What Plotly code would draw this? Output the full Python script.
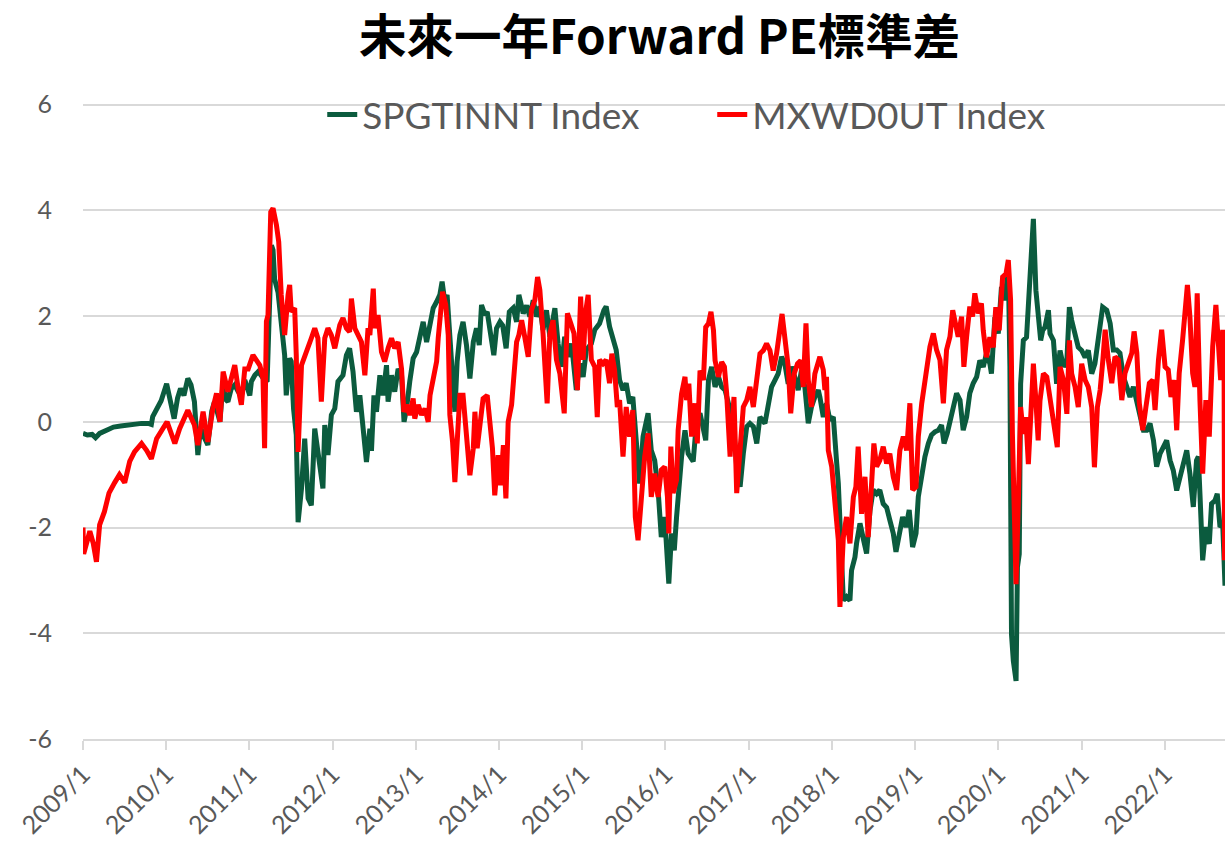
import plotly.graph_objects as go

# ---- data ----
spg_points = [
    ("2009-01-01", -0.22), ("2009-01-20", -0.25), ("2009-02-10", -0.24), ("2009-02-25", -0.30),
    ("2009-03-15", -0.22), ("2009-04-15", -0.15), ("2009-05-15", -0.10), ("2009-06-15", -0.08),
    ("2009-07-15", -0.06), ("2009-08-15", -0.04), ("2009-09-15", -0.03), ("2009-10-15", -0.03),
    ("2009-10-28", -0.05), ("2009-11-03", 0.10), ("2009-11-20", 0.25), ("2009-12-10", 0.40),
    ("2010-01-03", 0.72), ("2010-01-20", 0.35), ("2010-02-05", 0.06), ("2010-02-20", 0.45),
    ("2010-03-05", 0.63), ("2010-03-20", 0.50), ("2010-04-06", 0.82), ("2010-04-20", 0.70),
    ("2010-05-05", 0.38), ("2010-05-20", -0.63), ("2010-06-01", -0.10), ("2010-06-12", -0.25),
    ("2010-07-03", -0.44), ("2010-07-20", 0.20), ("2010-08-01", 0.38), ("2010-08-25", 0.00),
    ("2010-09-08", 0.76), ("2010-09-22", 0.41), ("2010-09-29", 0.38), ("2010-10-14", 0.63),
    ("2010-10-29", 0.70), ("2010-11-13", 0.57), ("2010-11-27", 0.50), ("2010-12-12", 0.79),
    ("2011-01-03", 0.50), ("2011-01-10", 0.76), ("2011-01-25", 0.88), ("2011-02-09", 0.95),
    ("2011-02-23", 0.85), ("2011-03-09", 0.79), ("2011-03-20", 0.76), ("2011-03-27", 1.70),
    ("2011-04-08", 3.34), ("2011-04-15", 3.25), ("2011-04-22", 2.70), ("2011-05-07", 2.45),
    ("2011-05-21", 1.90), ("2011-06-05", 1.26), ("2011-06-12", 0.50), ("2011-06-27", 1.20),
    ("2011-07-04", 1.14), ("2011-07-14", 0.25), ("2011-07-26", -0.25), ("2011-08-03", -1.90),
    ("2011-08-18", -1.26), ("2011-09-01", -0.32), ("2011-09-16", -1.45), ("2011-09-30", -1.58),
    ("2011-10-15", -0.13), ("2011-10-29", -0.63), ("2011-11-20", -1.26), ("2011-11-28", -0.06),
    ("2011-12-12", -0.63), ("2011-12-27", 0.13), ("2012-01-11", 0.25), ("2012-01-25", 0.76),
    ("2012-02-16", 0.88), ("2012-03-02", 1.26), ("2012-03-16", 1.39), ("2012-03-31", 0.95),
    ("2012-04-15", 0.19), ("2012-04-30", 0.50), ("2012-05-14", -0.13), ("2012-05-29", -0.76),
    ("2012-06-13", -0.13), ("2012-06-20", -0.55), ("2012-07-01", 0.50), ("2012-07-12", 0.19),
    ("2012-07-27", 0.88), ("2012-08-10", 0.50), ("2012-08-25", 1.07), ("2012-09-01", 0.38),
    ("2012-09-16", 0.88), ("2012-09-30", 0.57), ("2012-10-15", 1.00), ("2012-10-30", 0.88),
    ("2012-11-10", 0.00), ("2012-11-21", 0.25), ("2012-12-05", 0.76), ("2012-12-20", 1.20),
    ("2013-01-04", 1.32), ("2013-01-19", 1.64), ("2013-02-02", 1.89), ("2013-02-17", 1.51),
    ("2013-03-04", 1.82), ("2013-03-18", 2.15), ("2013-04-02", 2.27), ("2013-04-16", 2.40),
    ("2013-04-26", 2.65), ("2013-05-08", 2.27), ("2013-05-18", 2.40), ("2013-05-30", 1.64),
    ("2013-06-11", 0.76), ("2013-06-21", 0.19), ("2013-07-01", 1.14), ("2013-07-13", 1.64),
    ("2013-07-27", 1.89), ("2013-08-11", 1.45), ("2013-08-26", 0.82), ("2013-09-10", 1.51),
    ("2013-09-24", 1.77), ("2013-10-06", 1.45), ("2013-10-16", 2.21), ("2013-10-31", 2.02),
    ("2013-11-10", 2.08), ("2013-11-22", 1.77), ("2013-12-09", 1.26), ("2013-12-21", 1.77),
    ("2014-01-05", 1.89), ("2014-01-17", 1.82), ("2014-02-01", 1.39), ("2014-02-15", 2.08),
    ("2014-03-04", 2.15), ("2014-03-19", 1.89), ("2014-03-29", 2.40), ("2014-04-17", 2.05),
    ("2014-05-02", 2.20), ("2014-05-16", 1.99), ("2014-05-31", 2.30), ("2014-06-14", 1.99),
    ("2014-06-29", 2.18), ("2014-07-13", 1.74), ("2014-07-28", 2.11), ("2014-08-12", 1.61),
    ("2014-09-03", 2.15), ("2014-09-17", 1.48), ("2014-10-02", 1.04), ("2014-10-16", 1.61),
    ("2014-10-31", 1.23), ("2014-11-15", 1.48), ("2014-12-06", 0.60), ("2014-12-21", 1.10),
    ("2015-01-05", 0.85), ("2015-01-19", 1.36), ("2015-02-10", 1.48), ("2015-02-25", 1.74),
    ("2015-03-18", 1.86), ("2015-04-06", 2.11), ("2015-04-16", 2.18), ("2015-05-01", 1.80),
    ("2015-05-16", 1.55), ("2015-05-30", 1.36), ("2015-06-14", 0.79), ("2015-06-29", 0.60),
    ("2015-07-13", 0.73), ("2015-07-28", 0.35), ("2015-08-11", 0.47), ("2015-08-26", -0.41),
    ("2015-09-10", -1.17), ("2015-09-25", -0.28), ("2015-10-17", 0.16), ("2015-10-31", -0.54),
    ("2015-11-15", -0.73), ("2015-11-30", -1.29), ("2015-12-14", -2.18), ("2015-12-29", -1.80),
    ("2016-01-16", -3.06), ("2016-01-28", -2.11), ("2016-02-09", -2.43), ("2016-02-19", -1.80),
    ("2016-02-26", -1.35), ("2016-03-12", -0.66), ("2016-03-27", -0.16), ("2016-04-10", -0.60),
    ("2016-05-02", -0.75), ("2016-05-17", 0.03), ("2016-06-01", 0.16), ("2016-06-16", -0.22),
    ("2016-06-26", -0.35), ("2016-07-08", 0.79), ("2016-07-22", 1.04), ("2016-08-06", 0.66),
    ("2016-08-21", 0.85), ("2016-09-04", 0.66), ("2016-09-19", 0.60), ("2016-10-11", 0.22),
    ("2016-10-25", -0.03), ("2016-11-09", -0.85), ("2016-11-24", -1.23), ("2016-12-08", -0.60),
    ("2016-12-23", -0.09), ("2017-01-06", -0.03), ("2017-01-21", -0.09), ("2017-02-05", -0.41),
    ("2017-02-19", 0.09), ("2017-03-13", -0.03), ("2017-03-28", 0.28), ("2017-04-11", 0.66),
    ("2017-04-26", 0.79), ("2017-05-10", 0.91), ("2017-05-25", 1.23), ("2017-06-08", 1.10),
    ("2017-06-23", 0.72), ("2017-07-07", 1.04), ("2017-07-22", 0.85), ("2017-08-06", 0.60),
    ("2017-08-20", 0.97), ("2017-09-04", 0.66), ("2017-09-19", -0.03), ("2017-10-03", 0.28),
    ("2017-10-18", 0.47), ("2017-11-02", 0.60), ("2017-11-09", 0.47), ("2017-11-24", 0.09),
    ("2017-12-08", 0.35), ("2017-12-23", 0.03), ("2018-01-07", 0.09), ("2018-01-14", -0.54),
    ("2018-01-22", -0.79), ("2018-01-29", -1.17), ("2018-02-05", -1.80), ("2018-02-13", -2.56),
    ("2018-02-20", -3.38), ("2018-03-06", -3.31), ("2018-03-21", -3.38), ("2018-03-28", -2.81),
    ("2018-04-12", -2.56), ("2018-04-19", -2.30), ("2018-05-04", -1.92), ("2018-05-18", -2.20),
    ("2018-06-02", -2.49), ("2018-06-17", -1.68), ("2018-07-01", -1.29), ("2018-07-16", -1.36),
    ("2018-07-30", -1.29), ("2018-08-14", -1.55), ("2018-08-29", -1.62), ("2018-09-12", -1.86),
    ("2018-09-27", -2.11), ("2018-10-09", -2.46), ("2018-10-23", -2.11), ("2018-11-07", -1.80),
    ("2018-11-22", -1.99), ("2018-12-06", -1.67), ("2018-12-21", -2.37), ("2019-01-05", -2.11),
    ("2019-01-15", -1.42), ("2019-01-30", -0.98), ("2019-02-13", -0.66), ("2019-02-28", -0.41),
    ("2019-03-14", -0.25), ("2019-03-29", -0.19), ("2019-04-13", -0.16), ("2019-04-27", -0.06),
    ("2019-05-08", -0.41), ("2019-05-22", -0.22), ("2019-06-03", 0.03), ("2019-06-18", 0.35),
    ("2019-07-02", 0.54), ("2019-07-17", 0.41), ("2019-07-31", -0.16), ("2019-08-15", 0.09),
    ("2019-08-29", 0.54), ("2019-09-13", 0.73), ("2019-09-28", 0.85), ("2019-10-12", 1.16),
    ("2019-10-27", 1.04), ("2019-11-10", 1.29), ("2019-11-25", 1.10), ("2019-12-02", 0.91),
    ("2019-12-17", 1.98), ("2020-01-01", 1.67), ("2020-01-15", 2.55), ("2020-01-30", 2.30),
    ("2020-02-14", 2.93), ("2020-02-21", 1.04), ("2020-02-28", -4.02), ("2020-03-07", -4.52),
    ("2020-03-19", -4.90), ("2020-03-25", -2.75), ("2020-04-02", -2.50), ("2020-04-08", 0.72),
    ("2020-04-20", 1.54), ("2020-05-04", 1.60), ("2020-05-16", 2.61), ("2020-05-26", 3.56),
    ("2020-06-03", 3.84), ("2020-06-14", 2.49), ("2020-06-24", 2.11), ("2020-07-05", 1.54),
    ("2020-07-14", 1.73), ("2020-07-24", 1.79), ("2020-08-08", 2.11), ("2020-08-15", 1.67),
    ("2020-08-30", 1.54), ("2020-09-13", 0.72), ("2020-09-28", 1.35), ("2020-10-13", 1.04),
    ("2020-10-28", 1.16), ("2020-11-08", 2.17), ("2020-11-18", 1.92), ("2020-12-03", 1.60),
    ("2020-12-17", 1.41), ("2021-01-01", 1.35), ("2021-01-16", 1.22), ("2021-01-30", 1.35),
    ("2021-02-14", 0.91), ("2021-02-28", 1.10), ("2021-03-15", 1.54), ("2021-04-03", 2.17),
    ("2021-04-21", 2.11), ("2021-05-06", 1.86), ("2021-05-20", 1.36), ("2021-06-04", 1.36),
    ("2021-06-18", 1.30), ("2021-07-03", 0.85), ("2021-07-18", 0.66), ("2021-08-01", 0.47),
    ("2021-08-16", 0.66), ("2021-08-31", 0.41), ("2021-09-14", 0.16), ("2021-09-29", -0.16),
    ("2021-10-13", -0.16), ("2021-10-28", -0.03), ("2021-11-12", -0.35), ("2021-11-26", -0.85),
    ("2021-12-11", -0.60), ("2021-12-25", -0.47), ("2022-01-09", -0.35), ("2022-01-24", -0.73),
    ("2022-02-07", -0.92), ("2022-02-22", -1.30), ("2022-03-08", -1.04), ("2022-03-23", -0.73),
    ("2022-04-07", -0.54), ("2022-04-21", -0.98), ("2022-05-06", -1.61), ("2022-05-20", -0.73),
    ("2022-05-28", -0.66), ("2022-06-04", -1.36), ("2022-06-16", -2.62), ("2022-06-30", -1.99),
    ("2022-07-15", -2.31), ("2022-07-25", -1.55), ("2022-08-09", -1.49), ("2022-08-19", -1.36),
    ("2022-08-31", -1.99), ("2022-09-12", -1.93), ("2022-09-18", -3.00), ("2022-09-22", -3.10),
]

mxw_points = [
    ("2009-01-01", -2.00), ("2009-01-04", -2.50), ("2009-01-31", -2.07), ("2009-02-15", -2.30),
    ("2009-03-01", -2.65), ("2009-03-15", -1.95), ("2009-04-05", -1.70), ("2009-04-25", -1.35),
    ("2009-05-20", -1.15), ("2009-06-10", -1.00), ("2009-07-03", -1.15), ("2009-07-25", -0.75),
    ("2009-08-15", -0.57), ("2009-09-15", -0.41), ("2009-10-07", -0.54), ("2009-10-28", -0.70),
    ("2009-11-20", -0.32), ("2010-01-05", 0.00), ("2010-02-08", -0.41), ("2010-03-01", -0.13),
    ("2010-04-06", 0.22), ("2010-05-05", -0.06), ("2010-05-20", -0.44), ("2010-06-12", 0.19),
    ("2010-07-03", -0.38), ("2010-07-25", 0.25), ("2010-08-10", 0.54), ("2010-08-25", 0.00),
    ("2010-09-08", 0.95), ("2010-09-29", 0.57), ("2010-10-14", 0.82), ("2010-10-29", 1.07),
    ("2010-11-13", 0.63), ("2010-11-27", 0.32), ("2010-12-12", 1.00), ("2010-12-27", 1.00),
    ("2011-01-17", 1.26), ("2011-02-01", 1.14), ("2011-02-16", 1.07), ("2011-03-02", 0.82),
    ("2011-03-09", -0.50), ("2011-03-17", 1.90), ("2011-03-24", 2.02), ("2011-04-05", 3.97),
    ("2011-04-15", 4.04), ("2011-04-30", 3.72), ("2011-05-10", 3.40), ("2011-05-21", 2.40),
    ("2011-06-05", 1.64), ("2011-06-20", 2.40), ("2011-06-27", 2.59), ("2011-07-04", 2.08),
    ("2011-07-19", 2.15), ("2011-07-26", 1.26), ("2011-08-03", -0.57), ("2011-08-18", 1.07),
    ("2011-09-01", 1.26), ("2011-09-16", 1.45), ("2011-09-30", 1.58), ("2011-10-15", 1.77),
    ("2011-10-29", 1.58), ("2011-11-13", 0.38), ("2011-11-28", 1.58), ("2011-12-12", 1.77),
    ("2011-12-27", 1.64), ("2012-01-11", 1.39), ("2012-02-02", 1.83), ("2012-02-16", 1.96),
    ("2012-03-02", 1.77), ("2012-03-16", 1.70), ("2012-03-24", 2.33), ("2012-04-08", 1.77),
    ("2012-04-22", 1.64), ("2012-05-07", 1.51), ("2012-05-22", 0.88), ("2012-06-05", 1.77),
    ("2012-06-13", 1.64), ("2012-06-28", 2.52), ("2012-07-05", 1.77), ("2012-07-19", 2.02),
    ("2012-08-03", 1.32), ("2012-08-17", 1.14), ("2012-09-01", 1.39), ("2012-09-16", 1.58),
    ("2012-09-30", 1.39), ("2012-10-15", 1.51), ("2012-10-30", 1.00), ("2012-11-09", 0.19),
    ("2012-11-21", 0.32), ("2012-12-05", 0.13), ("2012-12-20", 0.44), ("2012-12-27", 0.06),
    ("2013-01-11", 0.32), ("2013-01-26", 0.13), ("2013-02-10", 0.25), ("2013-02-24", 0.00),
    ("2013-03-04", 0.50), ("2013-03-18", 0.76), ("2013-04-02", 1.14), ("2013-04-09", 1.58),
    ("2013-04-19", 2.21), ("2013-04-28", 2.46), ("2013-05-12", 2.21), ("2013-05-23", 1.64),
    ("2013-05-30", 0.13), ("2013-06-11", -0.38), ("2013-06-21", -1.14), ("2013-07-01", -0.25),
    ("2013-07-13", 0.50), ("2013-07-27", 0.50), ("2013-08-11", -0.38), ("2013-08-26", -1.01),
    ("2013-09-10", -0.50), ("2013-09-17", 0.19), ("2013-09-27", -0.50), ("2013-10-09", 0.00),
    ("2013-10-23", 0.44), ("2013-11-10", 0.50), ("2013-11-22", -0.06), ("2013-12-03", -0.50),
    ("2013-12-13", -1.39), ("2013-12-28", -0.63), ("2014-01-08", -1.20), ("2014-01-20", -0.44),
    ("2014-01-31", -1.45), ("2014-02-10", 0.00), ("2014-02-25", 0.32), ("2014-03-07", 0.76),
    ("2014-03-19", 1.51), ("2014-03-29", 1.64), ("2014-04-10", 1.92), ("2014-04-24", 1.60),
    ("2014-05-09", 1.23), ("2014-05-23", 2.11), ("2014-06-07", 2.30), ("2014-06-19", 2.74),
    ("2014-06-29", 2.49), ("2014-07-13", 1.67), ("2014-07-31", 0.35), ("2014-08-12", 1.67),
    ("2014-08-26", 1.92), ("2014-09-10", 1.17), ("2014-09-25", 0.91), ("2014-10-14", 0.16),
    ("2014-10-28", 2.05), ("2014-11-12", 1.86), ("2014-11-26", 1.67), ("2014-12-11", 0.60),
    ("2014-12-25", 2.37), ("2015-01-05", 1.17), ("2015-01-15", 2.05), ("2015-01-27", 2.40),
    ("2015-02-10", 1.17), ("2015-02-25", 1.04), ("2015-03-08", 0.09), ("2015-03-18", 1.17),
    ("2015-04-02", 1.10), ("2015-04-16", 1.17), ("2015-05-01", 0.73), ("2015-05-11", 1.29),
    ("2015-05-23", 0.98), ("2015-06-04", 0.28), ("2015-06-14", 0.41), ("2015-06-29", -0.66),
    ("2015-07-13", 0.28), ("2015-07-28", -0.28), ("2015-08-11", 0.22), ("2015-08-22", -1.80),
    ("2015-09-03", -2.24), ("2015-09-17", -1.48), ("2015-10-02", -0.66), ("2015-10-17", -0.22),
    ("2015-10-31", -1.42), ("2015-11-15", -0.98), ("2015-11-30", -1.42), ("2015-12-14", -0.91),
    ("2015-12-29", -0.85), ("2016-01-10", -1.42), ("2016-01-16", -2.11), ("2016-01-25", -0.47),
    ("2016-02-04", -1.35), ("2016-02-19", -1.10), ("2016-02-26", -0.16), ("2016-03-12", 0.53),
    ("2016-03-27", 0.85), ("2016-04-03", 0.41), ("2016-04-13", 0.72), ("2016-04-25", -0.28),
    ("2016-05-10", 0.35), ("2016-05-20", -0.41), ("2016-06-01", 0.97), ("2016-06-16", 0.79),
    ("2016-06-26", 1.79), ("2016-07-08", 1.86), ("2016-07-19", 2.08), ("2016-07-30", 1.73),
    ("2016-08-06", 1.16), ("2016-08-21", 0.85), ("2016-09-04", 1.13), ("2016-09-16", 1.04),
    ("2016-09-26", 0.53), ("2016-10-11", -0.66), ("2016-10-28", 0.47), ("2016-11-09", -1.35),
    ("2016-11-24", -0.60), ("2016-12-08", 0.28), ("2016-12-23", 0.41), ("2017-01-06", 0.66),
    ("2017-01-21", 0.28), ("2017-02-05", 0.79), ("2017-02-19", 1.29), ("2017-03-06", 1.35),
    ("2017-03-20", 1.48), ("2017-04-04", 1.35), ("2017-04-18", 0.97), ("2017-05-03", 1.29),
    ("2017-05-17", 1.73), ("2017-05-27", 2.04), ("2017-06-08", 1.60), ("2017-06-23", 1.04),
    ("2017-07-04", 0.16), ("2017-07-19", 0.91), ("2017-08-03", 1.10), ("2017-08-17", 1.16),
    ("2017-08-28", 0.66), ("2017-09-09", 1.86), ("2017-09-19", 0.79), ("2017-10-03", 0.28),
    ("2017-10-18", 0.91), ("2017-11-02", 1.16), ("2017-11-09", 1.23), ("2017-11-24", 0.98),
    ("2017-12-01", 0.60), ("2017-12-08", 0.85), ("2017-12-16", -0.54), ("2017-12-31", -0.85),
    ("2018-01-14", -1.42), ("2018-01-29", -2.24), ("2018-02-05", -3.50), ("2018-02-20", -2.18),
    ("2018-03-06", -1.80), ("2018-03-21", -2.30), ("2018-04-05", -1.42), ("2018-04-16", -1.23),
    ("2018-04-26", -0.47), ("2018-05-11", -1.74), ("2018-05-26", -1.04), ("2018-06-09", -2.18),
    ("2018-06-24", -1.17), ("2018-07-04", -0.41), ("2018-07-16", -0.85), ("2018-07-30", -0.73),
    ("2018-08-14", -0.47), ("2018-08-29", -0.79), ("2018-09-12", -0.60), ("2018-09-27", -1.04),
    ("2018-10-12", -1.29), ("2018-10-26", -0.54), ("2018-11-10", -0.28), ("2018-11-25", -0.54),
    ("2018-12-09", 0.35), ("2018-12-21", -1.29), ("2019-01-05", -1.23), ("2019-01-15", -0.28),
    ("2019-01-30", 0.35), ("2019-02-13", 0.73), ("2019-02-24", 0.98), ("2019-03-07", 1.42),
    ("2019-03-22", 1.67), ("2019-04-05", 1.36), ("2019-04-20", 1.17), ("2019-05-05", 0.35),
    ("2019-05-19", 1.36), ("2019-06-03", 1.61), ("2019-06-15", 2.11), ("2019-06-25", 1.92),
    ("2019-07-09", 1.61), ("2019-07-24", 1.99), ("2019-08-03", 1.04), ("2019-08-15", 1.61),
    ("2019-08-29", 2.18), ("2019-09-10", 1.99), ("2019-09-20", 2.43), ("2019-10-05", 2.05),
    ("2019-10-19", 2.24), ("2019-10-27", 1.73), ("2019-11-10", 1.22), ("2019-11-25", 1.60),
    ("2019-12-10", 1.41), ("2019-12-21", 2.17), ("2020-01-05", 1.73), ("2020-01-20", 2.74),
    ("2020-02-04", 2.80), ("2020-02-14", 3.06), ("2020-02-24", 2.30), ("2020-03-03", -0.23),
    ("2020-03-10", -2.12), ("2020-03-19", -3.07), ("2020-03-29", -1.49), ("2020-04-08", 0.28),
    ("2020-04-20", -0.23), ("2020-05-01", 0.09), ("2020-05-12", -0.80), ("2020-05-22", 0.28),
    ("2020-06-03", 1.10), ("2020-06-14", 0.40), ("2020-06-24", -0.35), ("2020-07-02", 0.40),
    ("2020-07-17", 0.91), ("2020-08-01", 0.85), ("2020-08-15", 0.40), ("2020-08-30", 0.09),
    ("2020-09-16", -0.48), ("2020-09-28", 1.04), ("2020-10-13", 0.79), ("2020-10-28", 0.15),
    ("2020-11-08", 1.54), ("2020-11-18", 0.91), ("2020-12-03", 0.66), ("2020-12-17", 0.28),
    ("2021-01-01", 1.10), ("2021-01-16", 0.79), ("2021-01-30", 0.66), ("2021-02-14", 0.28),
    ("2021-02-26", -0.86), ("2021-03-11", 0.28), ("2021-03-23", 0.60), ("2021-04-04", 1.17),
    ("2021-04-14", 1.74), ("2021-04-28", 1.17), ("2021-05-13", 0.73), ("2021-05-27", 1.23),
    ("2021-06-11", 1.17), ("2021-06-26", 0.41), ("2021-07-10", 0.92), ("2021-07-25", 1.11),
    ("2021-08-09", 1.30), ("2021-08-19", 1.71), ("2021-08-31", 1.30), ("2021-09-11", 0.35),
    ("2021-09-26", -0.16), ("2021-10-10", 0.28), ("2021-10-25", 0.73), ("2021-11-09", 0.79),
    ("2021-11-19", 0.22), ("2021-12-04", 1.17), ("2021-12-18", 1.74), ("2022-01-02", 1.04),
    ("2022-01-16", 0.98), ("2022-01-28", 0.47), ("2022-02-10", 0.79), ("2022-02-22", -0.16),
    ("2022-03-05", 0.92), ("2022-03-20", 1.55), ("2022-03-30", 2.05), ("2022-04-10", 2.59),
    ("2022-04-21", 1.99), ("2022-05-03", 0.92), ("2022-05-13", 0.66), ("2022-05-23", 2.43),
    ("2022-06-04", 0.41), ("2022-06-16", -0.98), ("2022-06-30", 0.41), ("2022-07-15", -0.28),
    ("2022-07-30", 1.42), ("2022-08-13", 2.21), ("2022-08-24", 1.48), ("2022-09-03", 0.79),
    ("2022-09-12", 1.74), ("2022-09-18", 1.00), ("2022-09-20", -2.62),
]

series_names = ["SPGTINNT Index", "MXWD0UT Index"]
series_colors = ["#0B5B3E", "#FF0000"]
title_text = "未來一年Forward PE標準差"
x_range = ["2009-01-01", "2022-09-22"]
y_tick_values = [-6, -4, -2, 0, 2, 4, 6]
y_tick_labels = ["-6", "-4", "-2", "0", "2", "4", "6"]

fig = go.Figure()
for pts, name, color in zip([spg_points, mxw_points], series_names, series_colors):
    fig.add_trace(go.Scatter(
        x=[p[0] for p in pts], y=[p[1] for p in pts], name=name, mode="lines",
        line=dict(color=color, width=5),
    ))

fig.update_layout(
    width=1225, height=846,
    margin=dict(l=83, r=0, t=103.4, b=107),
    paper_bgcolor="white", plot_bgcolor="white",
    title=dict(text=title_text, x=0.505, xref="paper", xanchor="center",
               y=1 - 37 / 846, yref="container", yanchor="middle",
               font=dict(family="Noto Sans CJK TC", size=47.5, color="black", weight=700)),
    legend=dict(orientation="h", x=0.551, xanchor="center", y=1.03, yanchor="top",
                font=dict(family="Lato", size=37, color="#595959"),
                bgcolor="rgba(0,0,0,0)", entrywidth=345),
    font=dict(family="Lato", color="#595959"),
)
fig.update_xaxes(
    type="date", range=x_range, tick0="2009-01-01", dtick="M12", tickformat="%Y/%-m",
    tickangle=-45, showgrid=False, showline=True, linecolor="#d9d9d9", linewidth=2,
    ticks="outside", ticklen=9, tickcolor="#d9d9d9", tickwidth=2, automargin=False,
    tickfont=dict(family="Lato", size=25, color="#595959"),
)
fig.update_yaxes(
    range=[y_tick_values[0], y_tick_values[-1] + 0.03],
    tickmode="array", tickvals=y_tick_values, ticktext=y_tick_labels,
    showgrid=True, gridcolor="#d9d9d9", gridwidth=2, automargin=False,
    zeroline=False, showline=False, ticks="", ticklabelstandoff=30,
    tickfont=dict(family="Lato", size=25, color="#595959"),
)

# remove the default 8px page margin so the 1225x846 figure fills the window exactly
fig.write_html("out.html", config={"displayModeBar": False},
               post_script="document.body.style.margin='0px';")
